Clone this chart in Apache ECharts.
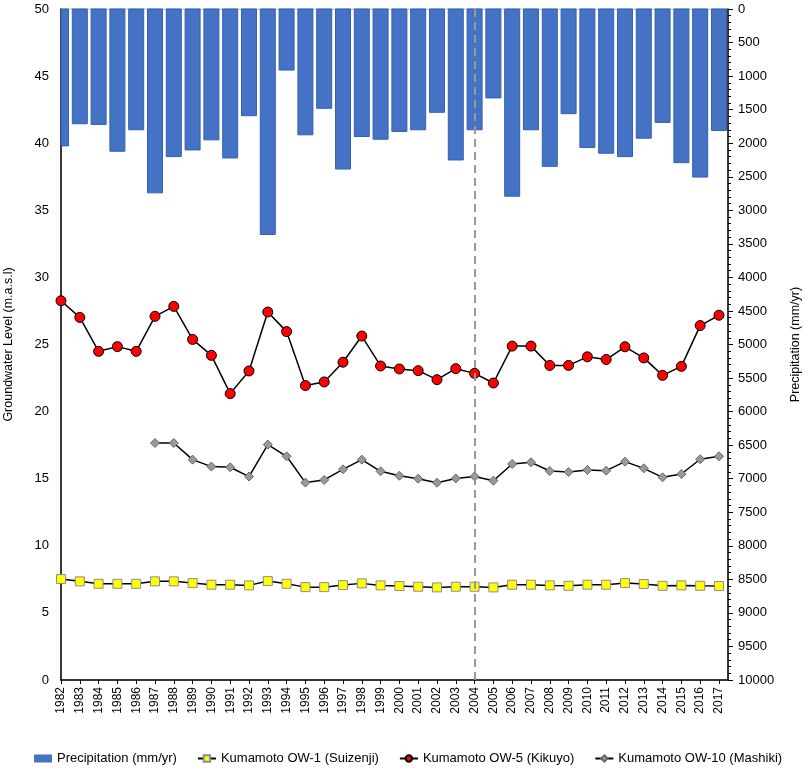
<!DOCTYPE html>
<html>
<head>
<meta charset="utf-8">
<script src="https://cdn.jsdelivr.net/npm/echarts@6/dist/echarts.min.js"></script>
<style>
  html, body { margin: 0; padding: 0; background: #fff; }
  #main { width: 804px; height: 770px; }
</style>
</head>
<body>
<div id="main"></div>
<script>
// years on the x axis
const years = [1982, 1983, 1984, 1985, 1986, 1987, 1988, 1989, 1990, 1991, 1992, 1993,
  1994, 1995, 1996, 1997, 1998, 1999, 2000, 2001, 2002, 2003, 2004, 2005,
  2006, 2007, 2008, 2009, 2010, 2011, 2012, 2013, 2014, 2015, 2016, 2017];

// precipitation (mm/yr), right axis, inverted
const precip = [2040, 1710, 1720, 2120, 1800, 2740, 2200, 2100, 1950, 2220, 1590, 3360,
  910, 1875, 1480, 2385, 1900, 1940, 1825, 1800, 1540, 2250, 1800, 1325,
  2790, 1800, 2345, 1560, 2065, 2150, 2200, 1925, 1690, 2290, 2505, 1810];

// groundwater level (m.a.s.l)
const ow1 = [7.52, 7.35, 7.17, 7.17, 7.17, 7.35, 7.35, 7.22, 7.1, 7.1, 7.05, 7.37,
  7.17, 6.92, 6.92, 7.07, 7.2, 7.05, 7.0, 6.95, 6.9, 6.95, 6.95, 6.9,
  7.1, 7.1, 7.05, 7.02, 7.1, 7.1, 7.22, 7.15, 7.02, 7.05, 7.02, 7.0];

const ow5 = [28.26, 27.02, 24.49, 24.84, 24.49, 27.1, 27.84, 25.38, 24.19, 21.34, 23.03, 27.42,
  25.96, 21.94, 22.21, 23.68, 25.63, 23.4, 23.18, 23.05, 22.38, 23.2, 22.85, 22.13,
  24.88, 24.88, 23.44, 23.44, 24.08, 23.88, 24.83, 24.0, 22.7, 23.37, 26.41, 27.18];

// OW-10 starts in 1987
const ow10Years = years.slice(5);
const ow10 = [17.66, 17.66, 16.42, 15.9, 15.85, 15.16, 17.54,
  16.67, 14.71, 14.91, 15.7, 16.42, 15.55, 15.22, 15.0, 14.7, 15.02, 15.17, 14.85,
  16.1, 16.22, 15.57, 15.5, 15.65, 15.6, 16.27, 15.77, 15.1, 15.35, 16.45, 16.67];

const markYear = 2004;

const pair = (xs, ys) => xs.map((x, i) => [x, ys[i]]);

const myChart = echarts.init(document.getElementById('main'));

const font = 'Liberation Sans, Arial, sans-serif';
const barColor = '#4472C4';

// bars hang from the top (inverted axis); clip them to the grid so the 1982 one is cut in half
const renderBar = (params, api) => {
  const x = api.value(0);
  const top = api.coord([x, 0]);
  const bot = api.coord([x, api.value(1)]);
  const w = 15;
  const cs = params.coordSys;
  const shape = echarts.graphic.clipRectByRect(
    { x: top[0] - w / 2, y: top[1], width: w, height: bot[1] - top[1] },
    { x: cs.x, y: cs.y, width: cs.width, height: cs.height }
  );
  if (!shape) return;
  return {
    type: 'rect',
    shape: shape,
    style: { fill: barColor, stroke: '#3360b3', lineWidth: 1 }
  };
};

const option = {
  animation: false,
  textStyle: { fontFamily: font },
  grid: {
    left: 61, right: 76, top: 9, bottom: 90,
    outerBoundsMode: 'none',
    containLabel: false,
    show: true, borderColor: '#b8b8b8', borderWidth: 1
  },
  legend: {
    left: 29, top: 747,
    itemWidth: 18, itemHeight: 8, itemGap: 20,
    textStyle: { fontSize: 13, color: '#000', fontFamily: font },
    data: [
      { name: 'Precipitation (mm/yr)', icon: 'rect' },
      'Kumamoto OW-1 (Suizenji)', 'Kumamoto OW-5 (Kikuyo)', 'Kumamoto OW-10 (Mashiki)'
    ]
  },
  xAxis: {
    type: 'value',
    min: 1982, max: 2017.48,
    splitLine: { show: false },
    axisLine: { lineStyle: { color: '#000', width: 1.5 } },
    axisTick: { length: 4, customValues: years, lineStyle: { color: '#000' } },
    axisLabel: {
      customValues: years,
      rotate: 90, margin: 7,
      fontSize: 12, color: '#000',
      formatter: v => String(v)
    }
  },
  yAxis: [
    {
      type: 'value', position: 'left',
      min: 0, max: 50, interval: 5,
      name: 'Groundwater Level (m.a.s.l)',
      nameLocation: 'middle', nameGap: 46, nameRotate: 90,
      nameTextStyle: { fontSize: 12.5, color: '#000' },
      splitLine: { show: false },
      axisLine: { show: true, lineStyle: { color: '#000', width: 1.5 } },
      axisTick: { show: false },
      axisLabel: { fontSize: 13, color: '#000', margin: 12 }
    },
    {
      type: 'value', position: 'right',
      min: 0, max: 10000, interval: 500, inverse: true,
      name: 'Precipitation (mm/yr)',
      nameLocation: 'middle', nameGap: 61, nameRotate: 90,
      nameTextStyle: { fontSize: 12.5, color: '#000' },
      splitLine: { show: false },
      axisLine: { show: true, lineStyle: { color: '#000', width: 1.5 } },
      axisTick: { show: true, length: 5, lineStyle: { color: '#000' } },
      minorTick: { show: true, splitNumber: 5, length: 3, lineStyle: { color: '#000' } },
      axisLabel: { fontSize: 13, color: '#000', margin: 10, formatter: v => String(v) }
    }
  ],
  series: [
    {
      name: 'Precipitation (mm/yr)',
      type: 'custom',
      yAxisIndex: 1,
      renderItem: renderBar,
      itemStyle: { color: barColor },
      encode: { x: 0, y: 1 },
      data: pair(years, precip)
    },
    {
      name: 'Kumamoto OW-1 (Suizenji)',
      type: 'line',
      symbol: 'rect', symbolSize: 9,
      lineStyle: { color: '#000', width: 1.5 },
      itemStyle: { color: '#FFFF00', borderColor: '#8a8aa0', borderWidth: 1 },
      data: pair(years, ow1),
      markLine: {
        silent: true,
        symbol: 'none',
        label: { show: false },
        lineStyle: { type: [8, 5], color: '#999', width: 2 },
        data: [{ xAxis: markYear }]
      }
    },
    {
      name: 'Kumamoto OW-5 (Kikuyo)',
      type: 'line',
      symbol: 'circle', symbolSize: 10,
      lineStyle: { color: '#000', width: 1.5 },
      itemStyle: { color: '#FF0000', borderColor: '#000', borderWidth: 1 },
      data: pair(years, ow5)
    },
    {
      name: 'Kumamoto OW-10 (Mashiki)',
      type: 'line',
      symbol: 'diamond', symbolSize: 9,
      lineStyle: { color: '#000', width: 1.5 },
      itemStyle: { color: '#999999', borderColor: '#666', borderWidth: 1 },
      data: pair(ow10Years, ow10)
    }
  ]
};

myChart.setOption(option);
</script>
</body>
</html>
